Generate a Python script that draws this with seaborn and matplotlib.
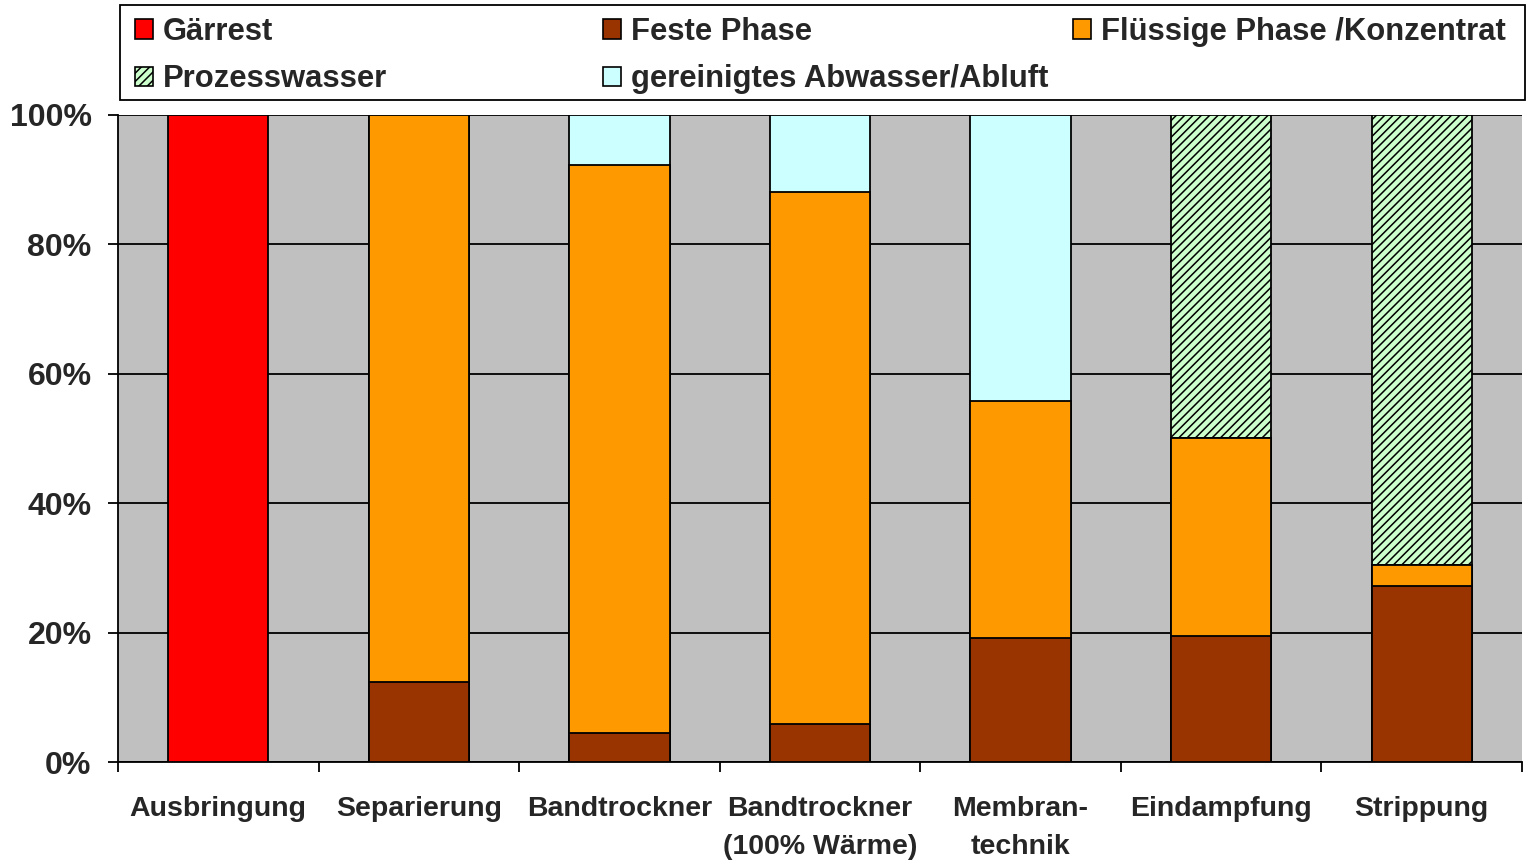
import matplotlib
matplotlib.use("Agg")
import matplotlib.pyplot as plt
import seaborn as sns
import pandas as pd
import numpy as np
from matplotlib.patches import Patch, Rectangle

categories = ["Ausbringung", "Separierung", "Bandtrockner", "Bandtrockner\n(100% Wärme)",
              "Membran-\ntechnik", "Eindampfung", "Strippung"]
gaerrest = [100, 0, 0, 0, 0, 0, 0]
feste = [0, 12.4, 4.5, 5.9, 19.2, 19.5, 27.2]
fluessig = [0, 87.6, 87.8, 82.2, 36.6, 30.6, 3.2]
abwasser = [0, 0, 7.7, 11.9, 44.2, 0, 0]
prozesswasser = [0, 0, 0, 0, 0, 49.9, 69.6]
yticks = [0, 20, 40, 60, 80, 100]

sns.set_theme(style="white")
plt.rcParams['font.family'] = ['Liberation Sans', 'DejaVu Sans']
plt.rcParams['font.weight'] = 'bold'
plt.rcParams['hatch.linewidth'] = 1.1

c_gaer = "#FF0000"
c_fest = "#993300"
c_fl = "#FF9900"
c_abw = "#CCFFFF"
c_proz = "#CCFFCC"
HATCH = "////"

W, H = 1530, 865
fig = plt.figure(figsize=(W / 100, H / 100), dpi=100)
ax = fig.add_axes([118/W, 1-762/H, (1522-118)/W, (762-115)/H])
ax.set_facecolor("#C0C0C0")

f = np.array(feste); fl = np.array(fluessig); a = np.array(abwasser); p = np.array(prozesswasser); g = np.array(gaerrest)
df = pd.DataFrame({"cat": categories, "g": g, "f": f, "ffl": f + fl,
                   "fa": f + fl + a, "fp": f + fl + p})

kw = dict(width=0.5, edgecolor="black", linewidth=1.3, ax=ax, zorder=3, saturation=1)
sns.barplot(data=df, x="cat", y="fp", color=c_proz, hatch=HATCH, **kw)
sns.barplot(data=df, x="cat", y="fa", color=c_abw, **kw)
sns.barplot(data=df, x="cat", y="ffl", color=c_fl, **kw)
sns.barplot(data=df, x="cat", y="f", color=c_fest, **kw)
sns.barplot(data=df, x="cat", y="g", color=c_gaer, **kw)
for patch in ax.patches:
    if patch.get_height() <= 0:
        patch.set_visible(False)

ax.set_ylim(0, 100)
ax.set_xlim(-0.5, len(categories) - 0.5)
ax.set_yticks(yticks)
ax.set_yticklabels([f"{v}%" for v in yticks], fontsize=23, fontweight="bold")
ax.yaxis.grid(True, color="black", linewidth=1.3, zorder=1)
ax.set_axisbelow(True)
ax.set_xticks(range(len(categories)))
ax.set_xticklabels(categories, fontsize=20.5, fontweight="bold", linespacing=1.6)
ax.tick_params(axis="x", length=0, pad=24.5)
ax.set_xticks(np.arange(-0.5, len(categories)), minor=True)
ax.tick_params(axis="x", which="minor", length=7, width=1.3, color="black", direction="out", bottom=True)
ax.tick_params(axis="y", length=7, width=1.3, color="black", direction="out", left=True, pad=12)
ax.set_xlabel("")
ax.set_ylabel("")
for s in ["top", "right"]:
    ax.spines[s].set_visible(False)
for s in ["left", "bottom"]:
    ax.spines[s].set_color("black")
    ax.spines[s].set_linewidth(1.3)

# legend frame
fig.add_artist(Rectangle((120/W, 1-100/H), (1525-120)/W, 95/H, transform=fig.transFigure,
                         facecolor="white", edgecolor="black", linewidth=1.3, zorder=0))

columns = [
    [("Gärrest", c_gaer, None), ("Prozesswasser", c_proz, HATCH)],
    [("Feste Phase", c_fest, None), ("gereinigtes Abwasser/Abluft", c_abw, None)],
    [("Flüssige Phase /Konzentrat", c_fl, None)],
]
col_x = [135, 603, 1073]
for cx, items in zip(col_x, columns):
    hs = [Patch(facecolor=c, edgecolor="black", hatch=h, linewidth=1.2, label=l) for l, c, h in items]
    lg = fig.legend(handles=hs, loc="upper left", bbox_to_anchor=(cx/W, 1-17/H),
                    prop={"size": 22.3, "weight": "bold"}, frameon=False,
                    handlelength=0.58, handleheight=0.58, handletextpad=0.33,
                    borderpad=0, labelspacing=0.56, borderaxespad=0)

fig.savefig("out.png", dpi=100, facecolor="white")
